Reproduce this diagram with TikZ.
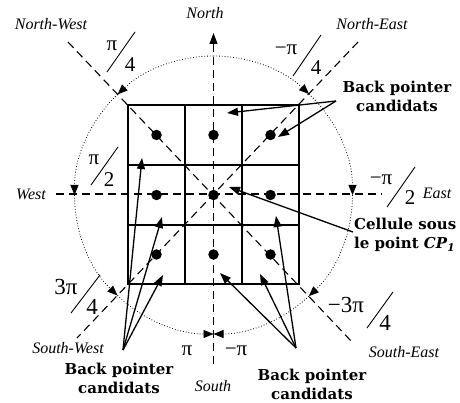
\documentclass[tikz,border=0pt]{standalone}
\usepackage{fontspec}
\setmainfont{Liberation Serif}
\newfontfamily\boldlab{DejaVu Serif}
\usetikzlibrary{arrows.meta}
\begin{document}
\begin{tikzpicture}[x=1pt,y=-1pt,
  dir/.style={font=\fontsize{16}{18}\selectfont\itshape, inner sep=0pt},
  ang/.style={font=\fontsize{21}{22}\selectfont, inner sep=0pt},
  angb/.style={font=\fontsize{23}{24}\selectfont, inner sep=0pt},
  sl/.style={line width=0.9pt},
  lbl/.style={font=\boldlab\bfseries\fontsize{15}{19}\selectfont, inner sep=0pt},
  gridline/.style={line width=1.6pt},
  axis/.style={dash pattern=on 8pt off 5pt, line width=1.1pt},
  arcarrow/.style={dotted, line width=0.8pt, -{Triangle[length=10pt,width=8pt]}},
  ptr/.style={line width=1.3pt, -{Triangle[length=11pt,width=8pt]}},
  dot/.style={circle, fill, inner sep=0pt, minimum size=10.5pt}
]
\useasboundingbox (0,0) rectangle (460,403);

% grid
\draw[gridline] (128,105) rectangle (299,284);
\draw[gridline] (185,105) -- (185,284) (242,105) -- (242,284)
                (128,165) -- (299,165) (128,225) -- (299,225);

% dots
\foreach \i/\x in {1/156.5,2/213.5,3/270.5}
  \foreach \j/\y in {1/135,2/195,3/254.5}
    \node[dot] (d\i\j) at (\x,\y) {};

\coordinate (C) at (213.5,195);

% axes
\coordinate (Ntip) at (213.5,33);
\coordinate (Sbot) at (213.5,364);
\coordinate (Wend) at (56,194);
\coordinate (Eend) at (382,194);
\coordinate (NWend) at (68,42);
\coordinate (SEend) at (352,342);
\coordinate (NEend) at (358,42);
\coordinate (SWend) at (77,338);
\draw[axis,-{Triangle[length=11pt,width=8pt]}] (Sbot) -- (Ntip);
\draw[axis] (Wend) -- (Eend);
\draw[axis] (NWend) -- (SEend);
\draw[axis] (NEend) -- (SWend);

% dotted arcs
\draw[arcarrow] ([shift={(-90:139)}]C) arc[start angle=-90, end angle=-133.6, radius=139];
\draw[arcarrow] ([shift={(-133.6:139)}]C) arc[start angle=-133.6, end angle=-180, radius=139];
\draw[arcarrow] ([shift={(-180:139)}]C) arc[start angle=-180, end angle=-226.3, radius=139];
\draw[arcarrow] ([shift={(-226.3:139)}]C) arc[start angle=-226.3, end angle=-270, radius=139];
\draw[arcarrow] ([shift={(-90:139)}]C) arc[start angle=-90, end angle=-46.6, radius=139];
\draw[arcarrow] ([shift={(-46.6:139)}]C) arc[start angle=-46.6, end angle=0, radius=139];
\draw[arcarrow] ([shift={(0:139)}]C) arc[start angle=0, end angle=46.7, radius=139];
\draw[arcarrow] ([shift={(46.7:139)}]C) arc[start angle=46.7, end angle=90, radius=139];

% direction labels
\node[dir] (lN) at (205,13) {North};
\node[dir] (lNW) at (51,24) {North-West};
\node[dir] (lNE) at (372,24) {North-East};
\node[dir] (lW) at (31,194) {West};
\node[dir] (lE) at (437,193) {East};
\node[dir] (lSW) at (68,348) {South-West};
\node[dir] (lSE) at (404,352) {South-East};
\node[dir] (lS) at (213,386) {South};

% angle labels
\node[ang] (aNWn) at (112,46) {π};
\node[ang] (aNWd) at (130,65) {4};
\draw[sl] (135,32) -- (107,72);
\node[ang] (aWn) at (94,160) {π};
\node[ang] (aWd) at (109,180) {2};
\draw[sl] (118,147) -- (91,185);
\node[ang] (aNEn) at (286,50) {−π};
\node[ang] (aNEd) at (316,68) {4};
\draw[sl] (321,35) -- (293,76);
\node[ang] (aEn) at (381,180) {−π};
\node[ang] (aEd) at (410,198) {2};
\draw[sl] (415,167) -- (387,207);
\node[angb] (aSWn) at (66,287) {3π};
\node[angb] (aSWd) at (92,307) {4};
\draw[sl] (100,275) -- (71,313);
\node[angb] (aSEn) at (346,305) {−3π};
\node[angb] (aSEd) at (385,323) {4};
\draw[sl] (393,292) -- (367,328);
\node[ang] (aSl) at (187,351) {π};
\node[ang] (aSr) at (236,351) {−π};

% bold labels
\node[lbl, align=center] (bpTR) at (397,96) {Back pointer\\candidats};
\node[lbl, align=left, anchor=north west] (cell) at (354,218) {Cellule sous\\le point \textit{CP}\textsubscript{\textit{1}}};
\node[lbl, align=center] (bpBL) at (119,378) {Back pointer\\candidats};
\node[lbl, align=center] (bpBR) at (312,384) {Back pointer\\candidats};

% pointer arrows
\coordinate (sTR) at (336,101);
\coordinate (sCell) at (353,232);
\coordinate (sBL) at (123,350);
\coordinate (sBR) at (296,348);
\coordinate (t1) at (227,113);
\coordinate (t2) at (278,137);
\coordinate (t3) at (229,187);
\coordinate (t4) at (142,158);
\coordinate (t5) at (162,217);
\coordinate (t6) at (163,275);
\coordinate (t7) at (220,273);
\coordinate (t8) at (260,274);
\coordinate (t9) at (276,216);
\draw[ptr] (sTR) -- (t1);
\draw[ptr] (sTR) -- (t2);
\draw[ptr] (sCell) -- (t3);
\draw[ptr] (sBL) -- (t4);
\draw[ptr] (sBL) -- (t5);
\draw[ptr] (sBL) -- (t6);
\draw[ptr] (sBR) -- (t7);
\draw[ptr] (sBR) -- (t8);
\draw[ptr] (sBR) -- (t9);
\end{tikzpicture}
\end{document}
